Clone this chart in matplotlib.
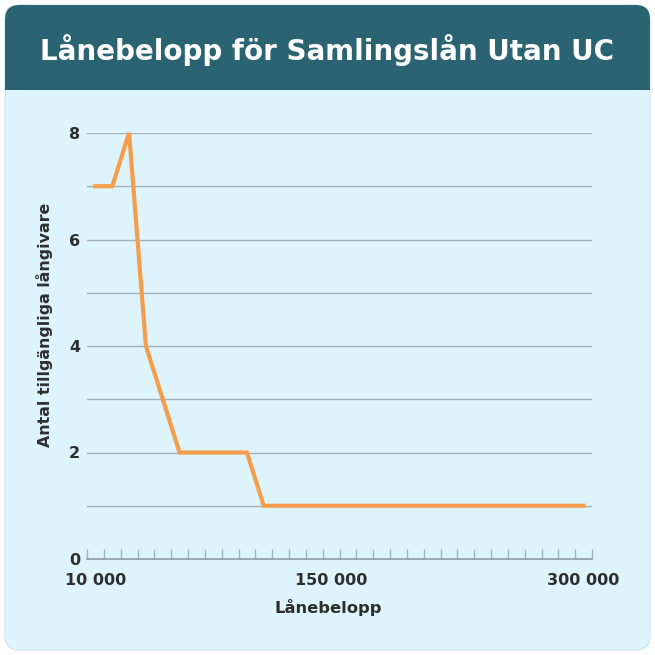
import numpy as np
import matplotlib
matplotlib.use("Agg")
import matplotlib.pyplot as plt
from matplotlib.patches import FancyBboxPatch, Rectangle

# data
belopp = list(range(10000, 300001, 10000))
langivare = [7, 7, 8, 4, 3, 2, 2, 2, 2, 2] + [1] * 20
visade_etiketter = {10000: "10 000", 150000: "150 000", 300000: "300 000"}

titel = "Lånebelopp för Samlingslån Utan UC"
x_titel = "Lånebelopp"
y_titel = "Antal tillgängliga långivare"

morkbla = "#2a6472"
ljusbla = "#ddf4fc"
orange = "#f59d4b"
grid_farg = "#a3b1b9"
text_farg = "#2e2e2e"

plt.rcParams['font.family'] = ['DejaVu Sans']

W = 655
fig = plt.figure(figsize=(6.55, 6.55), dpi=100)
fig.patch.set_facecolor("white")

def px(v):
    return v / W

# card and banner
fig.patches.append(FancyBboxPatch((px(5), px(5)), px(645), px(645),
                                  boxstyle="round,pad=0,rounding_size=0.022",
                                  transform=fig.transFigure, facecolor=ljusbla,
                                  edgecolor="#cfe3ea", linewidth=0.8, zorder=-2))
fig.patches.append(FancyBboxPatch((px(5), 1 - px(90)), px(645), px(85),
                                  boxstyle="round,pad=0,rounding_size=0.022",
                                  transform=fig.transFigure, facecolor=morkbla,
                                  edgecolor="none", zorder=-1))
fig.patches.append(Rectangle((px(5), 1 - px(90)), px(645), px(40),
                             transform=fig.transFigure, facecolor=morkbla,
                             edgecolor="none", zorder=-1))
fig.text(0.5, 1 - px(50), titel, ha="center", va="center", color="white",
         fontsize=20, fontweight="bold")

ax = fig.add_axes([px(87), 1 - px(559), px(505), px(559 - 133)])
ax.set_zorder(2)
ax.set_facecolor("none")

x = np.arange(len(belopp))
ax.plot(x, langivare, color=orange, linewidth=3.0, solid_joinstyle="miter",
        clip_on=False, zorder=3)

ax.set_xlim(-0.5, len(belopp) - 0.5)
ax.set_ylim(0, 8)

for yv in range(1, 9):
    ax.axhline(yv, color=grid_farg, linewidth=1, zorder=1)

pos = [i for i, b in enumerate(belopp) if b in visade_etiketter]
ax.set_xticks(pos)
ax.set_xticklabels([visade_etiketter[belopp[i]] for i in pos])
ax.set_xticks(np.arange(-0.5, len(belopp)), minor=True)
ax.tick_params(axis="x", which="major", length=0, pad=10, labelsize=11.5,
               labelcolor=text_farg)
ax.tick_params(axis="x", which="minor", direction="in", length=7.5,
               color=grid_farg, width=1)
for t in ax.get_xticklabels():
    t.set_fontweight("bold")

ax.set_yticks([0, 2, 4, 6, 8])
ax.tick_params(axis="y", length=0, pad=5, labelsize=11.5, labelcolor=text_farg)
for t in ax.get_yticklabels():
    t.set_fontweight("bold")

for s in ["top", "right", "left"]:
    ax.spines[s].set_visible(False)
ax.spines["bottom"].set_color("#8f9ca3")
ax.spines["bottom"].set_linewidth(1.2)

ax.set_xlabel(x_titel, fontsize=11.8, fontweight="bold", color=text_farg)
ax.set_ylabel(y_titel, fontsize=11.4, fontweight="bold", color=text_farg)
ax.xaxis.set_label_coords(0.477, -0.094)
ax.yaxis.set_label_coords(-0.067, 0.549)

fig.savefig("out.png", dpi=100, facecolor=fig.get_facecolor())
